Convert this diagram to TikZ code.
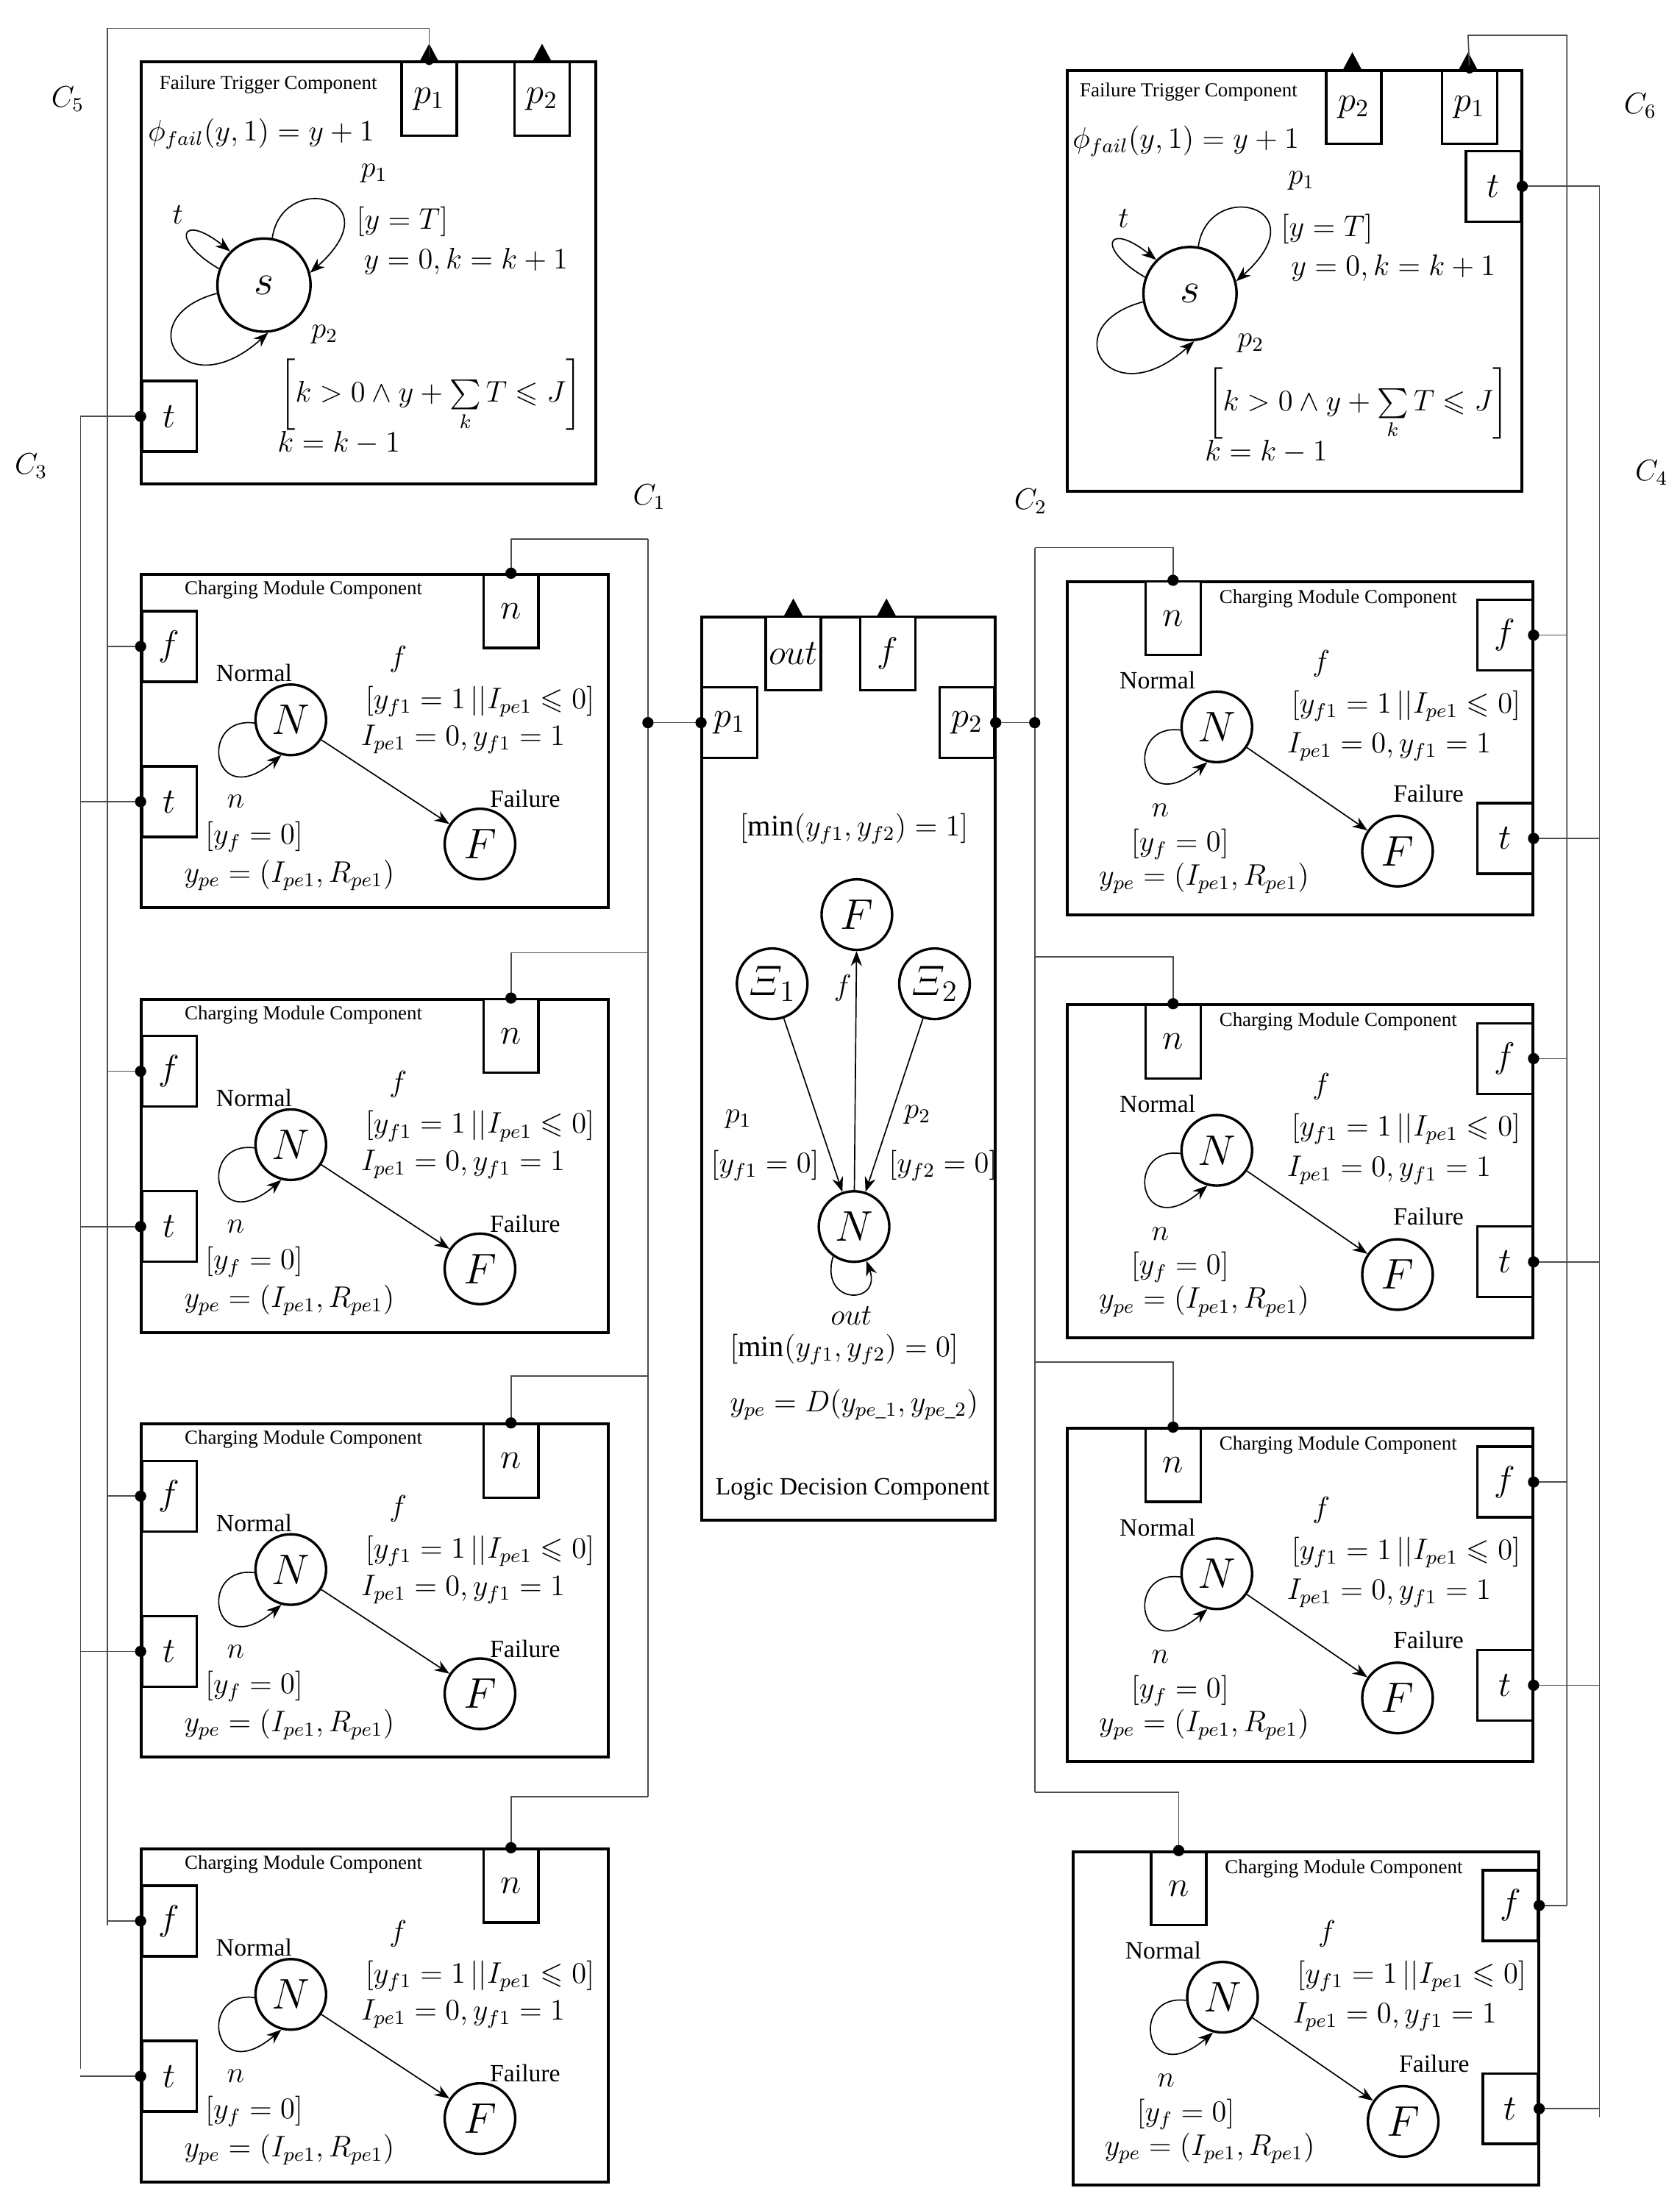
\documentclass[tikz,border=0pt]{standalone}
\usepackage{fontspec}
\setmainfont{Liberation Serif}
\usepackage{amsmath,amssymb}
\usetikzlibrary{arrows.meta}
\begin{document}
\begin{tikzpicture}[x=0.02cm,y=-0.02cm,
 box/.style={draw,line width=1.2pt},
 port/.style={draw,line width=1pt,minimum width=0.78cm,minimum height=1.04cm,inner sep=0pt,font=\Large,fill=white},
 st/.style={draw,circle,line width=1pt,minimum size=1cm,inner sep=0pt,font=\LARGE},
 wire/.style={line width=0.5pt,gray!60!black},
 dot/.style={circle,fill,inner sep=1.6pt},
 arr/.style={-{Stealth[length=6pt]},line width=0.5pt},
 ttl/.style={font=\footnotesize},
 mt/.style={font=\large},
 tri/.style={fill}]
\useasboundingbox (0,0) rectangle (1190,1558);
% ---------- Left failure trigger
\draw[box] (100,44) rectangle (422,343);
\node[port] (LFp1) at (304,70) {$p_1$};
\node[port] (LFp2) at (384,70) {$p_2$};
\fill (297,44)--(311,44)--(304,31)--cycle; \fill (377,44)--(391,44)--(384,31)--cycle;
\node[port,minimum height=1cm] (LFt) at (120,295) {$t$};
\node[ttl] at (190,60) {Failure Trigger Component};
\node[mt] at (185,95) {$\phi_{fail}(y,1)=y+1$};
\node[st,minimum size=1.32cm] (Ls) at (187,202) {$s$};
\draw[arr] (Ls.160) .. controls (120,170) and (128,150) .. (Ls.135);
\draw[arr] (Ls.80) .. controls (200,120) and (280,140) .. (Ls.15);
\draw[arr] (Ls.190) .. controls (90,225) and (130,290) .. (Ls.275);
\node[mt] at (126,152) {$t$};
\node[mt] at (265,123) {$p_1$};
\node[mt] at (285,157) {$[y=T]$};
\node[mt] at (330,185) {$y=0,k=k+1$};
\node[mt] at (230,237) {$p_2$};
\node[mt] at (305,280) {$\left[k>0\wedge y+\sum\limits_k T\leqslant J\right]$};
\node[mt] at (240,314) {$k=k-1$};
% ---------- Right failure trigger
\draw[box] (756,50) rectangle (1078,348);
\node[port] (RFp2) at (959,76) {$p_2$};
\node[port] (RFp1) at (1041,76) {$p_1$};
\fill (951,50)--(965,50)--(958,37)--cycle; \fill (1033,50)--(1047,50)--(1040,37)--cycle;
\node[port,minimum height=1cm] (RFt) at (1058,132) {$t$};
\node[ttl] at (842,65) {Failure Trigger Component};
\node[mt] at (840,100) {$\phi_{fail}(y,1)=y+1$};
\node[st,minimum size=1.32cm] (Rs) at (843,208) {$s$};
\draw[arr] (Rs.160) .. controls (776,176) and (784,156) .. (Rs.135);
\draw[arr] (Rs.80) .. controls (856,126) and (936,146) .. (Rs.15);
\draw[arr] (Rs.190) .. controls (746,231) and (786,296) .. (Rs.275);
\node[mt] at (796,155) {$t$};
\node[mt] at (922,128) {$p_1$};
\node[mt] at (940,162) {$[y=T]$};
\node[mt] at (987,190) {$y=0,k=k+1$};
\node[mt] at (886,243) {$p_2$};
\node[mt] at (962,286) {$\left[k>0\wedge y+\sum\limits_k T\leqslant J\right]$};
\node[mt] at (897,320) {$k=k-1$};
% labels
\node[mt] at (48,70) {$C_5$};
\node[mt] at (22,330) {$C_3$};
\node[mt] at (460,352) {$C_1$};
\node[mt] at (730,355) {$C_2$};
\node[mt] at (1162,75) {$C_6$};
\node[mt] at (1170,335) {$C_4$};
% ---------- Left charging modules
\foreach \i/\T in {1/407,2/708,3/1009,4/1310}{
 \draw[box] (100,\T) rectangle (431,\T+236);
 \node[port] (Ln\i) at (362,\T+26) {$n$};
 \node[port,minimum height=1cm] (Lf\i) at (120,\T+51) {$f$};
 \node[port,minimum height=1cm] (Lt\i) at (120,\T+161) {$t$};
 \node[ttl] at (215,\T+11) {Charging Module Component};
 \node[st] (LN\i) at (206,\T+103) {$N$};
 \node[st] (LF\i) at (340,\T+191) {$F$};
 \draw[arr] (LN\i) -- (LF\i);
 \draw[arr] (LN\i.185) .. controls (140,\T+100) and (150,\T+170) .. (LN\i.255);
 \node[font=\normalsize] at (180,\T+70) {Normal};
 \node[font=\normalsize] at (372,\T+159) {Failure};
 \node[mt] at (282,\T+60) {$f$};
 \node[mt] at (340,\T+90) {$[y_{f1}=1\,||I_{pe1}\leqslant0]$};
 \node[mt] at (328,\T+117) {$I_{pe1}=0,y_{f1}=1$};
 \node[mt] at (167,\T+161) {$n$};
 \node[mt] at (180,\T+186) {$[y_f=0]$};
 \node[mt] at (205,\T+213) {$y_{pe}=(I_{pe1},R_{pe1})$};
}
% ---------- Right charging modules
\foreach \i/\T/\d in {1/412/0,2/712/0,3/1012/0,4/1312/4}{
 \draw[box] (756+\d,\T) rectangle (1086+\d,\T+236);
 \node[port] (Rn\i) at (831+\d,\T+26) {$n$};
 \node[port,minimum height=1cm] (Rf\i) at (1066+\d,\T+38) {$f$};
 \node[port,minimum height=1cm] (Rt\i) at (1066+\d,\T+182) {$t$};
 \node[ttl] at (948+\d,\T+12) {Charging Module Component};
 \node[st] (RN\i) at (862+\d,\T+103) {$N$};
 \node[st] (RF\i) at (990+\d,\T+191) {$F$};
 \draw[arr] (RN\i) -- (RF\i);
 \draw[arr] (RN\i.185) .. controls (796+\d,\T+100) and (806+\d,\T+170) .. (RN\i.255);
 \node[font=\normalsize] at (820+\d,\T+70) {Normal};
 \node[font=\normalsize] at (1012+\d,\T+150) {Failure};
 \node[mt] at (936+\d,\T+58) {$f$};
 \node[mt] at (996+\d,\T+88) {$[y_{f1}=1\,||I_{pe1}\leqslant0]$};
 \node[mt] at (984+\d,\T+117) {$I_{pe1}=0,y_{f1}=1$};
 \node[mt] at (822+\d,\T+162) {$n$};
 \node[mt] at (836+\d,\T+186) {$[y_f=0]$};
 \node[mt] at (853+\d,\T+210) {$y_{pe}=(I_{pe1},R_{pe1})$};
}
% ---------- Middle logic decision
\draw[box] (497,437) rectangle (705,1077);
\node[port] (Mout) at (562,463) {$out$};
\node[port] (Mf) at (629,463) {$f$};
\fill (555,437)--(569,437)--(562,424)--cycle; \fill (621,437)--(635,437)--(628,424)--cycle;
\node[port,minimum height=1cm] (Mp1) at (517,512) {$p_1$};
\node[port,minimum height=1cm] (Mp2) at (685,512) {$p_2$};
\node[mt] at (605,587) {$[\min(y_{f1},y_{f2})=1]$};
\node[st] (MF) at (607,648) {$F$};
\node[st] (MX1) at (547,697) {$\varXi_1$};
\node[st] (MX2) at (662,697) {$\varXi_2$};
\node[st] (MN) at (605,869) {$N$};
\draw[arr] (MX1) -- (MN);
\draw[arr] (MX2) -- (MN);
\draw[arr] (MN) -- (MF);
\draw[arr] (MN.235) .. controls (580,925) and (625,925) .. (MN.290);
\node[mt] at (603,932) {$out$};
\node[mt] at (597,700) {$f$};
\node[mt] at (523,793) {$p_1$};
\node[mt] at (542,826) {$[y_{f1}=0]$};
\node[mt] at (650,790) {$p_2$};
\node[mt] at (668,826) {$[y_{f2}=0]$};
\node[mt] at (598,956) {$[\min(y_{f1},y_{f2})=0]$};
\node[mt] at (605,995) {$y_{pe}=D(y_{pe\_1},y_{pe\_2})$};
\node[font=\normalsize] at (604,1055) {Logic Decision Component};
% ---------- Wires
\draw[wire] (LFp1.north) -- (304,20) -- (76,20) -- (76,1364);
\node[dot,inner sep=1.2pt] at (LFp1.north) {};
\foreach \i in {1,...,4}{\draw[wire] (Lf\i.west) -- (76,0|-Lf\i.west); \node[dot] at (Lf\i.west){};}
\draw[wire] (LFt.west) -- (57,295) -- (57,1466);
\node[dot] at (LFt.west){};
\foreach \i in {1,...,4}{\draw[wire] (Lt\i.west) -- (57,0|-Lt\i.west); \node[dot] at (Lt\i.west){};}
\draw[wire] (459,382) -- (459,1273);
\foreach \i/\h in {1/382,2/675,3/975,4/1273}{\draw[wire] (Ln\i.north) -- (362,\h) -- (459,\h); \node[dot] at (Ln\i.north){};}
\draw[wire] (Mp1.west) -- (459,512); \node[dot] at (459,512){}; \node[dot] at (Mp1.west){};
\draw[wire] (733,388) -- (733,1270);
\foreach \i/\h in {1/388,2/678,3/965,4/1270}{\draw[wire] (Rn\i.north) -- (Rn\i.north|-0,\h) -- (733,\h); \node[dot] at (Rn\i.north){};}
\draw[wire] (Mp2.east) -- (733,512); \node[dot] at (733,512){}; \node[dot] at (Mp2.east){};
\draw[wire] (RFp1.north) -- (1040,25) -- (1110,25) -- (1110,1350);
\node[dot,inner sep=1.2pt] at (RFp1.north){};
\foreach \i in {1,...,4}{\draw[wire] (Rf\i.east) -- (1110,0|-Rf\i.east); \node[dot] at (Rf\i.east){};}
\draw[wire] (RFt.east) -- (1133,132) -- (1133,1500);
\node[dot] at (RFt.east){};
\foreach \i in {1,...,4}{\draw[wire] (Rt\i.east) -- (1133,0|-Rt\i.east); \node[dot] at (Rt\i.east){};}
\end{tikzpicture}
\end{document}
